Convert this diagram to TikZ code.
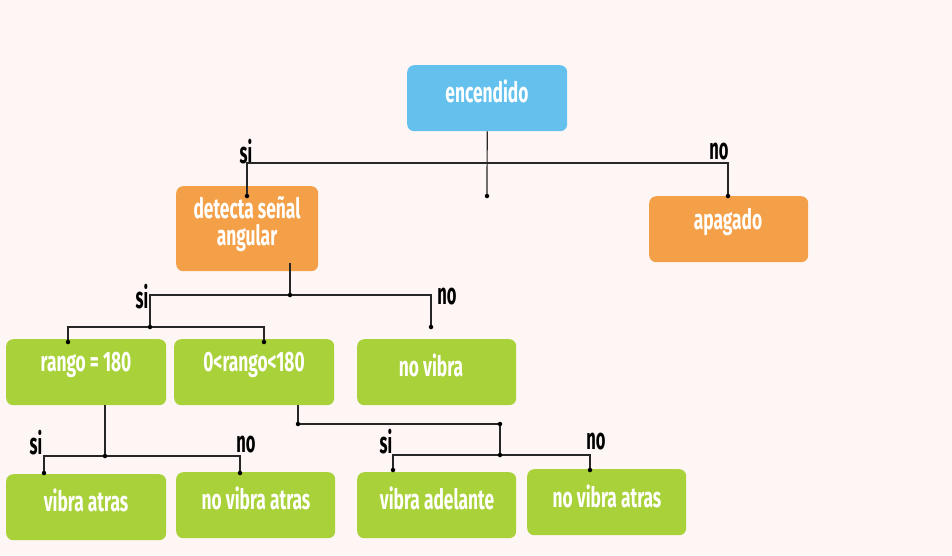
\documentclass[tikz,border=0pt]{standalone}
\usepackage{fontspec}
\newfontfamily\condA[FakeStretch=0.62]{Fira Sans}
\newfontfamily\condB[FakeStretch=0.55]{Fira Sans}
\definecolor{bgc}{RGB}{254,246,244}
\definecolor{cblue}{RGB}{100,193,237}
\definecolor{corange}{RGB}{244,160,73}
\definecolor{cgreen}{RGB}{169,209,57}
\begin{document}
\begin{tikzpicture}[x=1pt,y=-1pt,
  box/.style={draw=none, rounded corners=7pt, minimum width=160pt, minimum height=66pt, inner sep=0pt, anchor=north west},
  txt/.style={text=white, font=\condA\bfseries\fontsize{28}{27}\selectfont, align=center, inner sep=0pt},
  lab/.style={text=black, font=\condB\bfseries\fontsize{30}{30}\selectfont, inner sep=0pt},
  wire/.style={draw=black!85, line width=1.2pt},
  jdot/.style={circle, fill=black, inner sep=0pt, minimum size=4.5pt}]
\fill[bgc] (0,0) rectangle (952,555);
\useasboundingbox (0,0) rectangle (952,555);
% boxes
\node[box, fill=cblue] (enc) at (407,65) {};
\node[box, fill=corange, minimum width=142pt, minimum height=85pt] (det) at (176,186) {};
\node[box, fill=corange, minimum width=159pt] (apa) at (649,196) {};
\node[box, fill=cgreen] (r180) at (6,339) {};
\node[box, fill=cgreen] (rmid) at (174,339) {};
\node[box, fill=cgreen, minimum width=159pt] (nvib) at (357,339) {};
\node[box, fill=cgreen] (vat) at (6,474) {};
\node[box, fill=cgreen, minimum width=159pt] (nva1) at (176,472) {};
\node[box, fill=cgreen, minimum width=159pt] (vad) at (357,472) {};
\node[box, fill=cgreen, minimum width=159pt] (nva2) at (527,469) {};
% texts
\node[txt] (tenc) at (487,91) {encendido};
\node[txt] (tdet) at (247,224) {detecta señal\\angular};
\node[txt] (tapa) at (728,222) {apagado};
\node[txt] (tr180) at (86,365) {rango = 180};
\node[txt] (trmid) at (254,365) {0<rango<180};
\node[txt] (tnvib) at (431,365) {no vibra};
\node[txt] (tvat) at (86,500) {vibra atras};
\node[txt] (tnva1) at (256,498) {no vibra atras};
\node[txt] (tvad) at (437,498) {vibra adelante};
\node[txt] (tnva2) at (607,496) {no vibra atras};
% labels
\node[lab] (l1) at (246,152) {si};
\node[lab] (l2) at (719,152) {no};
\node[lab] (l3) at (142,297) {si};
\node[lab] (l4) at (447,297) {no};
\node[lab] (l5) at (36,443) {si};
\node[lab] (l6) at (246,445) {no};
\node[lab] (l7) at (386,442) {si};
\node[lab] (l8) at (596,442) {no};
% junctions
\coordinate (j1) at (487,163);
\coordinate (d1) at (487,196);
\coordinate (a1) at (247,196);
\coordinate (a2) at (728,196);
\coordinate (s1) at (290,263);
\coordinate (b0) at (290,295);
\coordinate (b1) at (150,327);
\coordinate (b2) at (431,327);
\coordinate (c1) at (68,342);
\coordinate (c2) at (264,342);
\coordinate (r0) at (105,405);
\coordinate (k0) at (105,456);
\coordinate (k1) at (44,473);
\coordinate (k2) at (240,473);
\coordinate (m0) at (298,405);
\coordinate (m1) at (298,424);
\coordinate (m2) at (500,424);
\coordinate (m3) at (500,455);
\coordinate (m4) at (393,470);
\coordinate (m5) at (590,470);
% wires
\draw[wire] (enc.south) -- (d1);
\draw[wire] (a1) |- (j1) -| (a2);
\draw[wire] (s1) -- (b0);
\draw[wire] (b1) |- (b0) -| (b2);
\draw[wire] (c1) |- (b1) -| (c2);
\draw[wire] (r0) -- (k0);
\draw[wire] (k1) |- (k0) -| (k2);
\draw[wire] (m0) -- (m1) -- (m2) -- (m3);
\draw[wire] (m4) |- (m3) -| (m5);
% dots
\foreach \p in {d1,a1,a2,b0,b1,b2,c1,c2,k0,k1,k2,m1,m2,m3,m4,m5}
  \node[jdot] at (\p) {};
\end{tikzpicture}
\end{document}
